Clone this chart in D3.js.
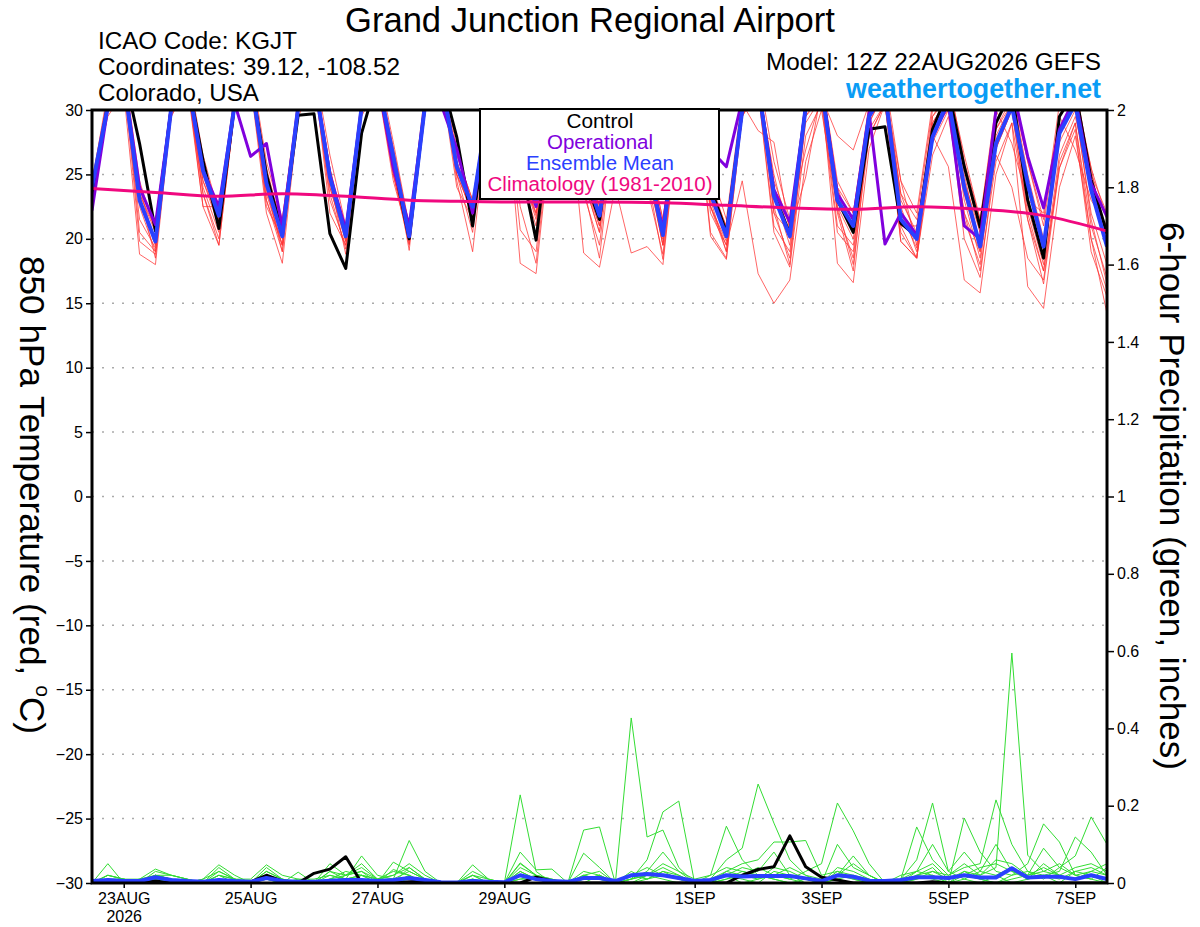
<!DOCTYPE html>
<html><head><meta charset="utf-8">
<script src="https://cdn.jsdelivr.net/npm/d3@7"></script>
<style>
body{margin:0;background:#fff}
svg{display:block}
</style>
</head><body>
<svg id="chart" width="1200" height="927"></svg>
<script>
// ---------------- DATA ----------------
const runStartUTC = Date.UTC(2026, 7, 22, 12); // 12Z 22AUG2026
const stepHours = 6;
const tempTicks = [-30, -25, -20, -15, -10, -5, 0, 5, 10, 15, 20, 25, 30];
const tempGrid = [-25, -20, -15, -10, -5, 0, 5, 10, 15, 20, 25];
const precipTicks = [0, 0.2, 0.4, 0.6, 0.8, 1, 1.2, 1.4, 1.6, 1.8, 2];
const dateTicks = ["2026-08-23", "2026-08-25", "2026-08-27", "2026-08-29", "2026-09-01", "2026-09-03", "2026-09-05", "2026-09-07"];
const dateTickLabels = ["23AUG", "25AUG", "27AUG", "29AUG", "1SEP", "3SEP", "5SEP", "7SEP"];
const legendLabels = ["Control", "Operational", "Ensemble Mean", "Climatology (1981-2010)"];

// 850 hPa temperature (C), every 6 h from 12Z 22AUG
const meanTemp = [24.0,30.3,32.5,23.0, 19.8,30.2,32.5,25.3, 21.8,30.5,32.5,24.3, 20.2,30.2,32.5,24.8, 20.2,30.2,32.5,26.4, 20.2,30.4,32.6,25.6, 22.5,30.5,32.5,26.0, 22.8,30.3,32.4,25.5, 21.8,30.3,32.2,26.1, 20.3,30.2,32.0,23.5, 20.2,30.0,32.0,23.3, 20.2,30.2,31.8,23.0, 21.0,29.5,31.5,21.5, 20.0,27.9,30.8,24.0, 19.4,27.4,30.3,24.3, 19.4,28.2,30.5,23.8, 19.4];
const controlTemp = [23.5,30.5,33.0,27.4, 20.6,30.2,32.5,26.1, 20.8,30.5,32.5,25.0, 20.4,29.6,29.7,20.4, 17.7,28.2,32.5,26.0, 20.0,30.4,32.6,27.9, 21.0,30.5,32.5,26.0, 19.9,30.3,32.4,25.0, 21.5,30.3,32.2,26.0, 20.5,30.2,32.0,24.0, 20.5,30.0,32.0,23.5, 20.4,30.2,32.0,23.0, 20.5,28.5,28.7,21.2, 20.2,28.5,31.5,25.6, 20.9,29.0,31.5,23.0, 18.5,29.5,31.5,24.6, 20.4];
const operationalTemp = [22.2,30.2,32.5,24.0, 21.1,30.2,32.5,25.3, 22.5,30.5,26.4,27.4, 20.9,30.2,32.5,25.0, 20.7,30.2,32.5,25.5, 21.0,30.4,30.5,27.0, 22.0,30.5,32.5,26.0, 22.5,30.3,32.4,25.5, 21.8,30.3,32.2,26.0, 20.8,30.5,32.0,26.9, 25.6,30.8,32.0,23.8, 21.3,30.2,31.8,23.5, 21.5,29.8,19.6,22.0, 20.3,27.9,30.5,21.0, 20.0,30.0,32.0,26.4, 22.4,28.5,31.0,24.3, 21.7];
// climatology, one value per day at 12Z
const climTemp = [23.9,23.6,23.3,23.5,23.3,23.0,22.9,22.85,22.85,22.8,22.6,22.4,22.3,22.5,22.3,21.8,20.6];

const memberTemps = [
 [23.5,30.8,33.0,20.5, 19.0,30.5,32.8,24.5, 21.0,30.8,33.0,23.8, 19.5,30.5,32.8,24.0, 19.8,30.5,33.0,25.5, 19.6,30.8,33.0,25.0, 22.0,31.0,32.8,25.5, 21.8,30.5,32.5,24.5, 20.5,30.0,32.0,25.5, 19.5,30.5,32.5,22.5, 19.8,30.8,32.5,22.0, 18.5,29.5,31.0,21.0, 19.5,28.0,30.5,20.5, 18.5,26.5,29.5,22.0, 17.5,26.0,29.0,21.5, 16.5,25.5,29.0,20.0, 16.0],
 [24.2,29.5,31.5,18.8, 18.0,29.8,32.0,24.0, 20.5,30.5,32.5,23.0, 19.0,30.0,32.0,23.5, 19.2,30.2,32.8,25.8, 20.8,31.0,33.0,26.5, 23.0,31.0,33.0,26.5, 23.0,30.8,33.0,27.0, 22.5,31.0,33.0,27.0, 21.5,31.0,32.8,24.5, 20.8,30.5,32.5,24.0, 21.0,31.0,32.5,24.5, 22.0,30.5,32.0,23.5, 21.5,30.0,32.0,26.5, 21.5,30.5,32.0,26.0, 21.5,30.5,32.0,25.0, 22.0],
 [24.5,31.0,33.0,23.5, 18.5,30.0,32.5,22.5, 19.5,30.0,32.0,22.0, 18.1,29.5,32.0,24.5, 20.5,30.0,32.5,26.0, 19.1,30.5,32.8,24.5, 19.0,30.0,32.5,18.1, 17.3,29.0,31.5,23.5, 19.5,30.0,32.0,26.5, 20.0,30.5,32.5,22.5, 19.5,24.5,17.3,15.0, 16.8,26.0,30.0,22.2, 18.5,29.0,31.5,21.0, 18.5,29.0,31.0,21.5, 18.0,28.0,30.5,23.0, 19.5,27.5,30.0,22.0, 18.0],
 [23.8,30.5,32.8,23.0, 19.5,30.5,33.0,25.5, 22.5,31.0,33.0,25.0, 21.0,30.8,33.0,25.5, 20.5,30.5,32.8,26.5, 20.5,30.5,33.0,26.0, 22.5,30.8,32.8,25.5, 21.5,30.0,31.5,18.9, 17.8,24.0,18.9,19.4, 18.0,29.5,32.0,23.0, 19.0,30.5,32.5,23.5, 19.5,30.5,32.5,24.0, 20.5,30.0,32.0,22.5, 19.0,28.5,31.5,25.0, 19.5,27.0,30.0,22.0, 17.5,26.5,29.5,24.0, 20.5],
 [24.0,30.0,32.0,23.5, 20.5,30.0,32.0,22.5, 22.5,30.8,32.8,24.0, 20.5,30.5,32.8,22.0, 19.5,30.0,32.5,25.0, 20.0,30.5,33.0,25.5, 22.0,30.5,32.5,25.0, 22.0,30.0,32.0,24.5, 21.0,30.5,32.5,25.5, 19.5,30.0,32.0,20.2, 18.4,29.5,32.0,22.0, 20.5,30.0,32.0,22.5, 20.0,29.5,31.5,19.8, 18.5,28.0,25.6,16.8, 15.8,25.0,29.0,16.3, 14.6,24.0,28.0,20.0, 14.2],
 [24.3,31.5,33.5,24.5, 20.5,31.0,33.5,26.5, 22.0,31.5,33.5,26.0, 21.5,31.0,33.5,26.5, 21.0,31.0,33.5,27.5, 21.0,31.5,33.5,27.0, 22.5,31.5,33.5,27.5, 22.8,31.5,33.5,27.5, 22.0,31.5,33.0,27.0, 21.5,31.0,33.0,25.5, 21.5,31.0,33.0,26.0, 21.5,26.9,31.0,28.0, 26.9,30.5,32.5,24.5, 22.0,30.5,32.5,26.0, 21.5,30.0,27.4,23.0, 22.0,29.5,26.9,23.0, 21.0],
 [23.5,30.0,32.0,21.5, 19.3,29.5,32.0,24.5, 21.5,30.5,32.5,22.5, 20.0,30.0,32.5,24.5, 18.8,29.5,32.0,25.0, 20.0,30.0,32.5,24.0, 21.5,30.0,32.0,20.7, 19.0,29.5,32.0,25.0, 21.0,30.5,32.5,26.0, 19.5,30.0,32.0,24.0, 20.5,30.5,28.4,27.5, 20.5,24.8,31.5,18.1, 16.6,27.0,30.5,22.0, 19.3,29.0,31.0,24.5, 20.5,29.0,31.5,25.0, 20.0,28.0,31.0,25.5, 19.0],
 [24.0,30.5,32.5,22.5, 19.0,30.5,32.5,25.0, 21.0,30.0,32.0,23.0, 19.5,30.5,33.0,25.5, 20.0,30.5,32.5,26.0, 20.5,30.5,32.5,25.5, 21.5,30.0,32.0,22.5, 18.1,29.5,32.5,26.0, 22.5,31.0,32.8,26.5, 21.0,30.5,32.5,22.0, 19.5,29.5,31.5,20.5, 17.8,28.0,30.5,20.5, 19.0,28.5,30.5,19.8, 18.5,27.5,30.0,23.5, 19.0,26.5,24.0,18.5, 16.8,26.0,29.0,21.0, 17.0],
 [23.0,30.0,32.5,23.5, 20.8,30.8,33.0,26.0, 22.0,31.0,33.0,25.5, 20.8,30.5,32.8,25.0, 19.8,30.5,32.8,27.0, 21.0,31.0,33.0,26.5, 23.0,31.0,33.0,26.5, 23.5,31.0,33.0,26.0, 21.5,30.5,32.5,26.5, 20.5,30.5,32.5,24.0, 21.0,30.5,32.5,24.5, 21.0,30.5,32.0,24.0, 22.0,30.0,32.0,23.0, 20.5,29.5,31.5,25.5, 20.5,29.0,31.5,26.0, 21.0,29.5,31.5,25.5, 21.5],
 [24.5,30.5,32.5,23.0, 20.0,30.0,32.5,23.5, 19.5,30.0,32.5,24.0, 19.0,30.0,32.5,24.0, 20.0,30.0,32.0,24.5, 20.0,30.0,32.5,25.0, 22.0,30.5,32.5,25.5, 22.5,30.5,32.5,24.5, 20.5,30.0,32.0,25.0, 18.4,29.5,32.0,22.5, 19.0,30.0,31.5,21.0, 19.0,29.0,31.0,22.5, 18.0,28.0,30.5,21.0, 21.0,28.5,30.5,20.0, 17.0,27.0,30.0,21.5, 17.5,25.5,28.5,19.0, 15.5],
 [24.0,31.0,33.0,24.0, 19.5,30.5,33.0,25.0, 21.5,30.5,32.5,24.5, 21.5,30.5,33.0,25.0, 21.0,30.5,33.0,27.0, 20.5,30.5,32.5,26.0, 22.5,30.5,32.5,26.0, 22.0,30.5,32.8,25.5, 22.0,30.5,32.0,25.0, 21.0,30.5,32.5,23.5, 21.0,30.0,32.0,25.0, 20.0,30.5,32.0,23.5, 20.5,29.5,31.5,23.5, 20.0,28.5,30.0,22.0, 19.0,28.5,31.0,24.5, 18.5,28.5,31.0,24.5, 20.0],
 [23.5,30.2,32.5,19.8, 18.8,29.5,32.0,23.5, 20.0,30.0,32.0,23.5, 19.5,30.5,32.5,23.0, 19.5,30.0,32.5,25.0, 19.5,30.0,32.5,25.0, 20.5,30.5,32.5,25.0, 21.0,30.0,32.5,24.0, 18.5,29.5,32.0,24.0, 18.8,29.5,32.0,20.5, 18.5,29.5,32.0,22.5, 18.0,29.5,31.5,22.0, 17.5,29.0,31.5,24.5, 19.5,29.5,31.0,23.0, 18.5,28.5,30.5,22.5, 18.0,28.0,30.5,21.5, 16.5]
];

// 6-hour precipitation (inches)
const meanPrecip = [0.005,0.008,0.005,0.005, 0.015,0.008,0.005,0.003, 0.008,0.005,0.003,0.013, 0.005,0.003,0.003,0.006, 0.008,0.008,0.005,0.008, 0.013,0.008,0.002,0.001, 0.005,0.003,0.002,0.02, 0.01,0.005,0.003,0.013, 0.013,0.005,0.02,0.023, 0.02,0.013,0.005,0.008, 0.02,0.017,0.018,0.018, 0.018,0.012,0.005,0.02, 0.016,0.006,0.005,0.008, 0.015,0.015,0.013,0.02, 0.014,0.014,0.038,0.014, 0.016,0.016,0.01,0.02, 0.01];
const controlPrecip = [0,0,0,0, 0.005,0,0,0, 0,0,0.003,0.02, 0.005,0,0.025,0.036, 0.068,0,0,0, 0.003,0.005,0,0, 0,0,0,0, 0.015,0.005,0,0, 0,0,0,0, 0,0,0,0, 0,0.02,0.035,0.042, 0.122,0.042,0.015,0.008, 0,0,0,0, 0,0.003,0,0, 0,0,0,0, 0,0,0,0, 0];
const memberPrecips = [
 [0,0.01,0,0, 0.02,0.01,0,0, 0.01,0,0,0.02, 0,0,0,0.01, 0.03,0.02,0,0, 0.02,0,0,0, 0.01,0,0,0.05, 0.02,0,0,0.077, 0.04,0,0.427,0.119, 0.137,0.04,0,0, 0.02,0.01,0,0.03, 0.02,0,0,0.03, 0.01,0,0,0, 0.02,0.04,0,0.01, 0.03,0.02,0,0.01, 0.02,0,0.03,0.02, 0],
 [0,0,0,0, 0.01,0,0,0, 0.03,0.01,0,0.01, 0,0,0,0, 0.02,0.05,0.01,0, 0.04,0.01,0,0, 0,0,0,0.03, 0.01,0,0,0, 0.02,0,0.02,0.01, 0.03,0.01,0,0, 0.01,0.03,0.02,0.01, 0,0,0,0.01, 0.02,0,0,0, 0.01,0.03,0.02,0.05, 0.02,0.04,0.595,0.072, 0.03,0.02,0.01,0.03, 0.02],
 [0,0.05,0,0.01, 0.036,0.02,0.01,0, 0.02,0,0,0.03, 0.01,0,0,0.02, 0.01,0.07,0.02,0.01, 0.11,0.03,0,0, 0.02,0,0,0.228, 0.03,0,0,0.01, 0.02,0,0,0.02, 0.01,0,0,0.01, 0.02,0,0.01,0.02, 0.01,0,0,0.01, 0,0,0,0, 0.03,0.02,0,0.02, 0.01,0,0.02,0.03, 0.01,0.04,0.02,0.01, 0],
 [0,0.02,0.01,0, 0.02,0.01,0,0.01, 0.047,0.02,0,0.01, 0,0.028,0,0.05, 0.02,0.03,0,0.054, 0.03,0.01,0,0, 0.047,0.01,0,0.08, 0.034,0.036,0,0.137, 0.145,0,0.03,0.01, 0.02,0.01,0,0, 0.03,0.02,0.04,0.02, 0.01,0.03,0.05,0.207, 0.135,0.05,0,0, 0.02,0.01,0,0.03, 0.01,0,0.01,0.02, 0.04,0.02,0.01,0.02, 0.01],
 [0,0.01,0.01,0, 0.03,0.02,0.01,0, 0.04,0.01,0.01,0.047, 0.02,0.01,0,0.03, 0.01,0.02,0,0.035, 0.02,0,0,0, 0.03,0.01,0,0.052, 0.02,0,0,0.02, 0.03,0,0.01,0.06, 0.184,0.212,0,0.02, 0.147,0.06,0.02,0.01, 0,0.01,0,0.02, 0.01,0,0,0.01, 0.06,0.207,0.03,0.01, 0,0.02,0.04,0.01, 0.02,0.01,0.03,0.04, 0.02],
 [0,0,0,0.01, 0.01,0,0,0, 0.02,0.01,0,0.04, 0.01,0,0,0.01, 0.02,0.04,0.01,0.02, 0.04,0.01,0,0, 0.01,0,0,0.02, 0.01,0,0,0.01, 0.01,0,0.02,0.04, 0.02,0.01,0,0.01, 0.06,0.09,0.256,0.155, 0.06,0.02,0,0.02, 0.07,0.02,0,0, 0.01,0.02,0,0.168, 0.08,0.03,0.02,0.05, 0.153,0.106,0.02,0.01, 0.04],
 [0,0.02,0.01,0, 0.02,0.01,0,0.01, 0.03,0.01,0,0.02, 0,0.01,0.01,0.02, 0.01,0.02,0.01,0.03, 0.02,0,0,0, 0.02,0,0,0.04, 0.02,0.01,0,0.03, 0.02,0,0.01,0.02, 0.04,0.02,0,0.01, 0.03,0.05,0.06,0.106, 0.106,0.11,0.02,0.03, 0.02,0.01,0,0.01, 0.145,0.06,0.02,0.04, 0.05,0.215,0.1,0.03, 0.02,0.03,0.119,0.08, 0.02],
 [0,0.01,0,0, 0.02,0.02,0.01,0, 0.01,0,0,0.03, 0.01,0,0,0.01, 0,0.02,0.01,0.01, 0.03,0.01,0,0, 0.01,0,0,0.03, 0.01,0,0,0.02, 0.01,0,0.01,0.03, 0.08,0.03,0,0.01, 0.02,0.04,0.03,0.08, 0.02,0.01,0,0.1, 0.04,0.02,0,0.02, 0.03,0.1,0.03,0.08, 0.03,0.1,0.03,0.02, 0.09,0.04,0.07,0.171, 0.1],
 [0,0,0.01,0, 0.01,0,0,0, 0.01,0,0,0.01, 0,0,0,0, 0.01,0.01,0,0, 0.01,0,0,0, 0,0,0,0.01, 0.01,0,0,0.01, 0.02,0,0,0.01, 0.03,0.02,0,0, 0.01,0.02,0.01,0.04, 0.03,0.01,0,0.04, 0.03,0.01,0,0, 0.02,0.03,0.01,0.02, 0.04,0.05,0.03,0.01, 0.05,0.02,0.04,0.05, 0.03],
 [0,0.02,0.01,0.01, 0.02,0.01,0,0, 0.02,0.01,0,0.02, 0.01,0,0,0.03, 0.02,0.03,0.01,0.02, 0.05,0.02,0,0, 0.02,0.01,0,0.01, 0.02,0.01,0,0.02, 0.01,0,0.01,0.02, 0.05,0.03,0.01,0.02, 0.04,0.03,0.02,0.02, 0.04,0.02,0.01,0.02, 0.05,0.02,0,0.01, 0.03,0.05,0.01,0.03, 0.02,0.06,0.05,0.02, 0.03,0.05,0.02,0.03, 0.05]
];

// ---------------- CHART ----------------
const FONT = '"Liberation Sans", Arial, Helvetica, sans-serif';
const svg = d3.select("#chart").attr("font-family", FONT);
const M = { l: 92, r: 1107, t: 110, b: 883 };
const HOUR = 3600e3;
const timeAt = i => new Date(runStartUTC + i * stepHours * HOUR);

const x = d3.scaleUtc().domain([timeAt(0), timeAt(meanTemp.length - 1)]).range([M.l, M.r]);
const yT = d3.scaleLinear().domain([-30, 30]).range([M.b, M.t]);
const yP = d3.scaleLinear().domain([0, 2]).range([M.b, M.t]);

const lineT = d3.line().x((d, i) => x(timeAt(i))).y(d => yT(d));
const lineP = d3.line().x((d, i) => x(timeAt(i))).y(d => yP(d));
const lineClim = d3.line().x((d, i) => x(timeAt(i * 4))).y(d => yT(d)).curve(d3.curveMonotoneX);

svg.append("defs").append("clipPath").attr("id", "plotclip")
  .append("rect").attr("x", M.l).attr("y", M.t).attr("width", M.r - M.l).attr("height", M.b - M.t);

// grid
svg.append("g").selectAll("line").data(tempGrid).join("line")
  .attr("x1", M.l).attr("x2", M.r)
  .attr("y1", d => yT(d)).attr("y2", d => yT(d))
  .attr("stroke", "#aaaaaa").attr("stroke-width", 1.5).attr("stroke-dasharray", "2,8");

const plot = svg.append("g").attr("clip-path", "url(#plotclip)").attr("fill", "none").attr("stroke-linejoin", "round");

plot.append("g").selectAll("path").data(memberTemps).join("path")
  .attr("d", d => lineT(d)).attr("stroke", "#ff3333").attr("stroke-opacity", 0.75).attr("stroke-width", 1);
plot.append("g").selectAll("path").data(memberPrecips).join("path")
  .attr("d", d => lineP(d)).attr("stroke", "#33dd33").attr("stroke-width", 1);

plot.append("path").attr("d", lineT(controlTemp)).attr("stroke", "#000").attr("stroke-width", 3);
plot.append("path").attr("d", lineP(controlPrecip)).attr("stroke", "#000").attr("stroke-width", 3);
plot.append("path").attr("d", lineT(operationalTemp)).attr("stroke", "#8000dd").attr("stroke-width", 3);
plot.append("path").attr("d", lineT(meanTemp)).attr("stroke", "#2a40ff").attr("stroke-width", 4);
plot.append("path").attr("d", lineP(meanPrecip)).attr("stroke", "#2a40ff").attr("stroke-width", 4);
plot.append("path").attr("d", lineClim(climTemp)).attr("stroke", "#f0087f").attr("stroke-width", 3);

// axes
function styleAxis(g) {
  g.select(".domain").remove();
  g.selectAll(".tick line").attr("stroke", "#000").attr("stroke-width", 1.5);
  g.selectAll(".tick text").attr("font-size", 16).attr("font-family", FONT).attr("fill", "#000");
}
const gL = svg.append("g").attr("transform", `translate(${M.l},0)`)
  .call(d3.axisLeft(yT).tickValues(tempTicks).tickSize(6).tickPadding(3).tickFormat(d3.format("d")));
styleAxis(gL);
const gR = svg.append("g").attr("transform", `translate(${M.r},0)`)
  .call(d3.axisRight(yP).tickValues(precipTicks).tickSize(7).tickPadding(3).tickFormat(d3.format("~g")));
styleAxis(gR);
const parseDay = d3.utcParse("%Y-%m-%d");
const gB = svg.append("g").attr("transform", `translate(0,${M.b})`)
  .call(d3.axisBottom(x).tickValues(dateTicks.map(parseDay)).tickSize(5).tickPadding(5)
    .tickFormat((d, i) => dateTickLabels[i]));
styleAxis(gB);
gB.select(".tick text").append("tspan").attr("x", 0).attr("dy", "1.1em").text("2026");

// frame
svg.append("rect").attr("x", M.l).attr("y", M.t).attr("width", M.r - M.l).attr("height", M.b - M.t)
  .attr("fill", "none").attr("stroke", "#000").attr("stroke-width", 3);

// text helper: fit width
function fit(sel, target) {
  const w = sel.node().getComputedTextLength();
  const fs = parseFloat(sel.attr("font-size"));
  if (w > 0) sel.attr("font-size", (fs * target / w).toFixed(2));
  return sel;
}

// legend
svg.append("rect").attr("x", 480).attr("y", 109).attr("width", 239).attr("height", 90)
  .attr("fill", "#fff").attr("stroke", "#000").attr("stroke-width", 2);
const legendColors = ["#000000", "#8000dd", "#2a40ff", "#f0087f"];
const legendBase = [127.5, 148.5, 169.5, 191];
const legendWidths = [67, 106, 148, 225];
legendLabels.forEach((t, i) => {
  const s = svg.append("text").attr("x", 600).attr("y", legendBase[i]).attr("text-anchor", "middle")
    .attr("font-size", 20).attr("fill", legendColors[i]).text(t);
  fit(s, legendWidths[i]);
});

// titles
fit(svg.append("text").attr("x", 590).attr("y", 32).attr("text-anchor", "middle").attr("font-size", 34)
  .text("Grand Junction Regional Airport"), 490);
fit(svg.append("text").attr("x", 98).attr("y", 48.5).attr("font-size", 24).text("ICAO Code: KGJT"), 199);
fit(svg.append("text").attr("x", 98).attr("y", 74.5).attr("font-size", 24).text("Coordinates: 39.12, -108.52"), 302);
fit(svg.append("text").attr("x", 98).attr("y", 100.5).attr("font-size", 24).text("Colorado, USA"), 161);
fit(svg.append("text").attr("x", 1101).attr("y", 70).attr("text-anchor", "end").attr("font-size", 24)
  .text("Model: 12Z 22AUG2026 GEFS"), 335);
fit(svg.append("text").attr("x", 1101).attr("y", 97.5).attr("text-anchor", "end").attr("font-size", 24)
  .attr("font-weight", "bold").attr("fill", "#0a9cf5").text("weathertogether.net"), 255);

// axis titles
const lt = svg.append("text").attr("transform", "translate(20,495) rotate(90)").attr("text-anchor", "middle")
  .attr("font-size", 34);
lt.append("tspan").text("850 hPa Temperature (red, ");
lt.append("tspan").attr("font-size", "60%").attr("dy", "-0.75em").text("o");
lt.append("tspan").attr("dy", "0.45em").text("C)");
fit(lt, 478);
fit(svg.append("text").attr("transform", "translate(1160,496) rotate(90)").attr("text-anchor", "middle")
  .attr("font-size", 34).text("6-hour Precipitation (green, inches)"), 548);
</script>
</body></html>
